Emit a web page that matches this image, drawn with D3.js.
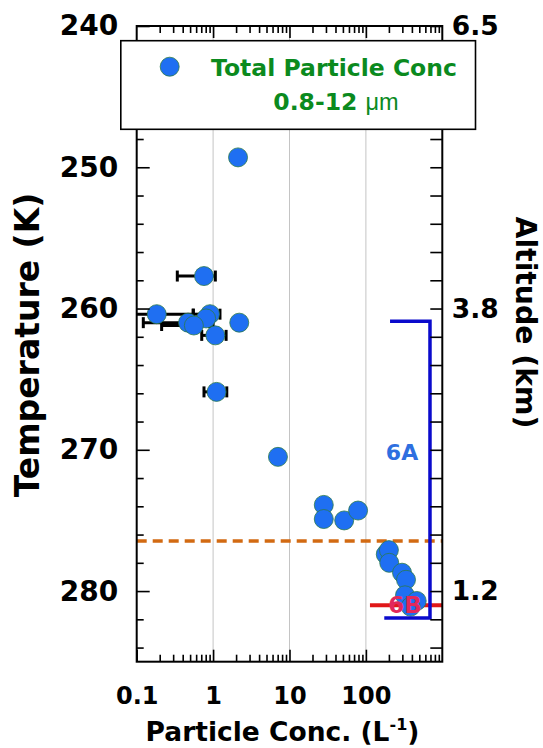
<!DOCTYPE html>
<html>
<head>
<meta charset="utf-8">
<script src="https://cdn.jsdelivr.net/npm/d3@7"></script>
<style>
    body{margin:0;background:#fff;}
    svg text{font-family:"DejaVu Sans",sans-serif;font-weight:bold;}
</style>
</head>
<body>
<svg id="chart" width="543" height="748"></svg>
<script>
// 데이터
const conc = [2.12, 0.76, 0.183, 0.91, 0.81, 0.47, 0.56, 2.2, 1.07, 1.11, 7.06,
              28.1, 28.1, 52, 79, 182, 200, 202, 297, 335, 325, 462, 385];
const temp = [249.3, 257.7, 260.4, 260.4, 260.7, 261.0, 261.2, 261.0, 261.9, 265.9, 270.5,
              273.9, 274.9, 275.0, 274.3, 277.4, 277.1, 278.0, 278.7, 279.2, 280.3, 280.7, 281.1];
const errLow  = [null, 0.34, 0.07, 0.55, null, 0.122, 0.212, null, 0.71, 0.76, null,
                 null, null, null, null, null, null, null, null, null, null, null, null];
const errHigh = [null, 1.07, 0.55, 1.23, null, 0.9, 1.0, null, 1.48, 1.51, null,
                 null, null, null, null, null, null, null, null, null, null, null, null];

const xTickValues = [0.1, 1, 10, 100];
const xTickLabels = ["0.1", "1", "10", "100"];
const gridValues = [1, 10, 100];
const tempTicks = [240, 250, 260, 270, 280];
const altTemps = [240, 260, 280];
const altLabels = ["6.5", "3.8", "1.2"];

const freezeTemp = 276.45;            // 주황 점선
const range6A = [260.9, 281.9];       // 6A 구간 (K)
const arm6A = [207, 174, 690];        // 위 팔 시작, 아래 팔 시작, 세로선 (L-1)
const level6B = 281.0;
const span6B = [113, 1000];

// 스케일
const MARGIN = {LEFT:136.7, RIGHT:442.3, TOP:26, BOTTOM:661.7};
const x = d3.scaleLog().domain([0.1, 1000]).range([MARGIN.LEFT, MARGIN.RIGHT]);
const y = d3.scaleLinear().domain([240, 285]).range([MARGIN.TOP, MARGIN.BOTTOM]);

const minorX = [0.1, 1, 10, 100].flatMap(d => d3.range(2, 10).map(k => k * d));
const minorY = d3.range(242, 285, 2).filter(t => t % 10 != 0);

const svg = d3.select("#chart");

// 그리드
svg.append("g").selectAll("line")
    .data(gridValues).join("line")
    .attr("x1", d => x(d)).attr("x2", d => x(d))
    .attr("y1", MARGIN.TOP).attr("y2", MARGIN.BOTTOM)
    .attr("stroke", "#c4c4c4").attr("stroke-width", 1);

// 주황 점선
svg.append("line")
    .attr("x1", MARGIN.LEFT).attr("x2", MARGIN.RIGHT)
    .attr("y1", y(freezeTemp)).attr("y2", y(freezeTemp))
    .attr("stroke", "#d26a12").attr("stroke-width", 3.5)
    .attr("stroke-dasharray", "10,6");

// 6B 빨간선
svg.append("line")
    .attr("x1", x(span6B[0])).attr("x2", x(span6B[1]))
    .attr("y1", y(level6B)).attr("y2", y(level6B))
    .attr("stroke", "#e01818").attr("stroke-width", 4);

// 에러바
const errIdx = d3.range(conc.length).filter(i => errLow[i] != null);
const eb = svg.append("g").attr("stroke", "#000").attr("stroke-width", 3);
errIdx.forEach(i => {
    const lo = Math.max(x(errLow[i]), MARGIN.LEFT);
    const hi = x(errHigh[i]);
    const yy = y(temp[i]);
    eb.append("line").attr("x1", lo).attr("x2", hi).attr("y1", yy).attr("y2", yy);
    if (errLow[i] >= 0.1) eb.append("line").attr("x1", lo).attr("x2", lo).attr("y1", yy - 5.5).attr("y2", yy + 5.5);
    eb.append("line").attr("x1", hi).attr("x2", hi).attr("y1", yy - 5.5).attr("y2", yy + 5.5);
});

// 점
svg.append("g").selectAll("circle")
    .data(d3.range(conc.length)).join("circle")
    .attr("cx", i => x(conc[i]))
    .attr("cy", i => y(temp[i]))
    .attr("r", 9.5)
    .attr("fill", "#1f6ff2")
    .attr("stroke", "#2b7a4b").attr("stroke-width", 0.8);

// 6A 브라켓
const bx = x(arm6A[2]);
svg.append("path")
    .attr("d", `M${x(arm6A[0])},${y(range6A[0])}H${bx}V${y(range6A[1])}H${x(arm6A[1])}`)
    .attr("fill", "none").attr("stroke", "#0a0acc").attr("stroke-width", 3.5);

svg.append("text").attr("x", 402).attr("y", y(270.15)).attr("dy", "0.36em")
    .attr("text-anchor", "middle").attr("font-size", "22px").attr("fill", "#2e6fe0")
    .text("6A");
svg.append("text").attr("x", 405).attr("y", y(level6B)).attr("dy", "0.36em")
    .attr("text-anchor", "middle").attr("font-size", "23px").attr("fill", "#e2285c")
    .text("6B");

// 축
function cleanAxis(g){
    g.select(".domain").remove();
    g.selectAll(".tick line").attr("stroke", "#000").attr("stroke-width", 1.6);
    g.selectAll("text").attr("fill", "#000");
}

svg.append("g").attr("transform", `translate(0,${MARGIN.BOTTOM})`)
    .call(d3.axisBottom(x).tickValues(minorX).tickSize(-7).tickFormat(""))
    .call(cleanAxis);
svg.append("g").attr("transform", `translate(0,${MARGIN.BOTTOM})`)
    .call(d3.axisBottom(x).tickValues(xTickValues).tickSize(-12).tickPadding(25)
        .tickFormat((d, i) => xTickLabels[i]))
    .call(cleanAxis)
    .selectAll("text").attr("font-size", "24px").attr("font-family", "DejaVu Sans").attr("font-weight", "bold");

svg.append("g").attr("transform", `translate(0,${MARGIN.TOP})`)
    .call(d3.axisTop(x).tickValues(minorX).tickSize(-7).tickFormat(""))
    .call(cleanAxis);
svg.append("g").attr("transform", `translate(0,${MARGIN.TOP})`)
    .call(d3.axisTop(x).tickValues(gridValues).tickSize(-12).tickFormat(""))
    .call(cleanAxis);

svg.append("g").attr("transform", `translate(${MARGIN.LEFT},0)`)
    .call(d3.axisLeft(y).tickValues(minorY).tickSize(-7).tickFormat(""))
    .call(cleanAxis);
svg.append("g").attr("transform", `translate(${MARGIN.LEFT},0)`)
    .call(d3.axisLeft(y).tickValues(tempTicks).tickSize(-13).tickPadding(18.4))
    .call(cleanAxis)
    .selectAll("text").attr("font-size", "28px").attr("font-family", "DejaVu Sans").attr("font-weight", "bold");

svg.append("g").attr("transform", `translate(${MARGIN.RIGHT},0)`)
    .call(d3.axisRight(y).tickValues(d3.range(240, 285, 2)).tickSize(-12)
        .tickPadding(9.5).tickFormat(d => {
            const k = altTemps.indexOf(d);
            return k >= 0 ? altLabels[k] : "";
        }))
    .call(cleanAxis)
    .selectAll("text").attr("font-size", "26.5px").attr("font-family", "DejaVu Sans").attr("font-weight", "bold");

// 프레임
svg.append("rect")
    .attr("x", MARGIN.LEFT).attr("y", MARGIN.TOP)
    .attr("width", MARGIN.RIGHT - MARGIN.LEFT).attr("height", MARGIN.BOTTOM - MARGIN.TOP)
    .attr("fill", "none").attr("stroke", "#000").attr("stroke-width", 2);

// 축 제목
svg.append("text")
    .attr("transform", "translate(39,345) rotate(-90)")
    .attr("text-anchor", "middle").attr("font-size", "33px")
    .text("Temperature (K)");
svg.append("text")
    .attr("transform", "translate(516,322.5) rotate(90)")
    .attr("text-anchor", "middle").attr("font-size", "28.3px")
    .text("Altitude (km)");
const xt = svg.append("text")
    .attr("x", 282.5).attr("y", 741)
    .attr("text-anchor", "middle").attr("font-size", "26.5px");
xt.append("tspan").text("Particle Conc. (L");
xt.append("tspan").attr("font-size", "16px").attr("dy", -11).text("-1");
xt.append("tspan").attr("dy", 11).text(")");

// 범례
const lg = svg.append("g");
lg.append("rect")
    .attr("x", 120.8).attr("y", 40.7).attr("width", 354.7).attr("height", 88.6)
    .attr("fill", "#fff").attr("stroke", "#000").attr("stroke-width", 1.6);
lg.append("circle").attr("cx", 169.7).attr("cy", 66.7).attr("r", 9.5)
    .attr("fill", "#1f6ff2").attr("stroke", "#2b7a4b").attr("stroke-width", 0.8);
lg.append("text").attr("x", 334).attr("y", 76)
    .attr("text-anchor", "middle").attr("font-size", "23.5px").attr("fill", "#0b8a1e")
    .text("Total Particle Conc");
const l2 = lg.append("text").attr("x", 336).attr("y", 110)
    .attr("text-anchor", "middle").attr("font-size", "23.5px").attr("fill", "#0b8a1e");
l2.append("tspan").text("0.8-12 ");
l2.append("tspan").attr("font-weight", "normal").attr("font-family", "Liberation Sans").text("μm");

console.info('Chart frame is successed !');
</script>
</body>
</html>
